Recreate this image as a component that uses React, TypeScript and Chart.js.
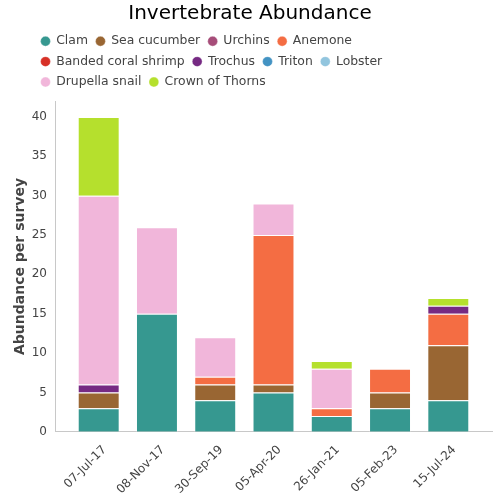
import React, { useEffect, useRef } from "react";
import { Chart, registerables } from "chart.js";

Chart.register(...registerables);

const surveyDates = ["07-Jul-17", "08-Nov-17", "30-Sep-19", "05-Apr-20", "26-Jan-21", "05-Feb-23", "15-Jul-24"];

const clam = [3, 15, 4, 5, 2, 3, 4];
const seaCucumber = [2, 0, 2, 1, 0, 2, 7];
const urchins = [0, 0, 0, 0, 0, 0, 0];
const anemone = [0, 0, 1, 19, 1, 3, 4];
const bandedCoralShrimp = [0, 0, 0, 0, 0, 0, 0];
const trochus = [1, 0, 0, 0, 0, 0, 1];
const triton = [0, 0, 0, 0, 0, 0, 0];
const lobster = [0, 0, 0, 0, 0, 0, 0];
const drupellaSnail = [24, 11, 5, 4, 5, 0, 0];
const crownOfThorns = [10, 0, 0, 0, 1, 0, 1];

const seriesNames = ["Clam", "Sea cucumber", "Urchins", "Anemone", "Banded coral shrimp", "Trochus", "Triton", "Lobster", "Drupella snail", "Crown of Thorns"];
const seriesValues = [clam, seaCucumber, urchins, anemone, bandedCoralShrimp, trochus, triton, lobster, drupellaSnail, crownOfThorns];
const seriesColors = ["#369890", "#996633", "#a64d79", "#f46d43", "#d73027", "#762a83", "#4393c3", "#92c5de", "#f1b6da", "#b5e02d"];

const yTicks = [0, 5, 10, 15, 20, 25, 30, 35, 40];
const yMax = 42;

const FONT = "'DejaVu Sans', sans-serif";

const legendShift = {
  id: "legendShift",
  beforeLayout(chart: any) {
    const lg = chart.legend;
    if (lg && !lg._patched) {
      const orig = lg.fit.bind(lg);
      lg.fit = function () {
        const mw = this.maxWidth;
        this.maxWidth = Math.min(mw, 434);
        orig();
        this.maxWidth = mw;
        this.height += 3;
      };
      lg._patched = true;
    }
  },
  afterLayout(chart: any) {
    const lg = chart.legend;
    if (lg) {
      lg.left = 33;
      lg.right = 467;
    }
  },
};

export default function App() {
  const ref = useRef<HTMLCanvasElement | null>(null);
  useEffect(() => {
    if (!ref.current) return;
    const chart = new Chart(ref.current, {
      type: "bar",
      data: {
        datasets: seriesNames.map((name, i) => ({
          label: name,
          data: seriesValues[i].map((v, j) => ({ x: j, y: v ? v : null })),
          backgroundColor: seriesColors[i],
          borderColor: "rgba(255,255,255,0.35)",
          borderWidth: 1,
        })),
      },
      options: {
        animation: false,
        responsive: true,
        maintainAspectRatio: false,
        layout: { padding: { left: 8, right: 8, top: 0, bottom: 0 } },
        plugins: {
          title: {
            display: true,
            text: "Invertebrate Abundance",
            color: "#000",
            font: { family: FONT, size: 20, weight: "normal" },
            padding: { top: 2, bottom: 1 },
          },
          legend: {
            position: "top",
            align: "start",
            labels: {
              usePointStyle: true,
              pointStyle: "circle",
              boxWidth: 9,
              boxHeight: 7,
              padding: 8,
              color: "#444",
              font: { family: FONT, size: 12.4 },
            },
          },
          tooltip: { enabled: false },
        },
        scales: {
          x: {
            type: "linear",
            stacked: true,
            min: -0.75,
            max: surveyDates.length - 0.25,
            offset: false,
            grid: { display: false },
            border: { display: true, color: "#c8c8c8" },
            afterBuildTicks: (axis: any) => {
              axis.ticks = surveyDates.map((_, i) => ({ value: i }));
            },
            afterFit: (axis: any) => {
              axis.paddingLeft = 0;
              axis.paddingRight = 0;
            },
            ticks: {
              color: "#444",
              font: { family: FONT, size: 12 },
              maxRotation: 45,
              minRotation: 45,
              autoSkip: false,
              labelOffset: 6,
              callback: (v: any) => surveyDates[v],
            },
          },
          y: {
            stacked: true,
            min: 0,
            max: yMax,
            grid: { display: false, drawTicks: false },
            border: { display: true, color: "#c8c8c8" },
            afterBuildTicks: (axis: any) => {
              axis.ticks = yTicks.map((v) => ({ value: v }));
            },
            afterFit: (axis: any) => {
              axis.width = 47;
            },
            ticks: {
              color: "#444",
              padding: 8,
              font: { family: FONT, size: 12 },
            },
            title: {
              display: true,
              text: "Abundance per survey",
              color: "#444",
              font: { family: FONT, size: 14, weight: "bold" },
            },
          },
        },
      },
      plugins: [legendShift],
    });
    return () => chart.destroy();
  }, []);
  return (
    <div style={{ position: "absolute", left: 0, top: 0, width: 500, height: 500 }}>
      <canvas ref={ref} />
    </div>
  );
}
